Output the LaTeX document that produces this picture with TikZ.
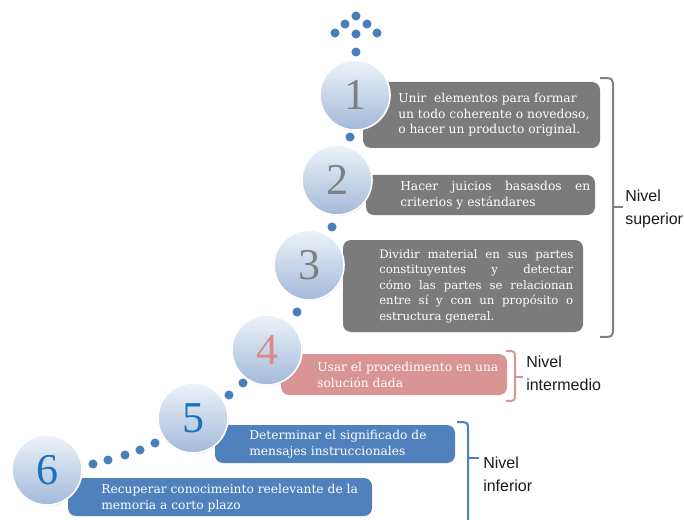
\documentclass[tikz,border=0pt]{standalone}
\usepackage{fontspec}
\setmainfont{DejaVu Serif}
\newfontfamily\digitfont{Liberation Serif}
\newfontfamily\labelfont{Liberation Sans}
\usetikzlibrary{shadows}
\definecolor{boxgray}{HTML}{7B7B7B}
\definecolor{boxpink}{HTML}{D99594}
\definecolor{boxblue}{HTML}{4F81BD}
\definecolor{dotblue}{HTML}{4A7EBB}
\definecolor{numgray}{HTML}{7F7F7F}
\definecolor{numpink}{HTML}{D98A8A}
\definecolor{numblue}{HTML}{1F6FBF}
\definecolor{ctop}{HTML}{EEF3F9}
\definecolor{cbot}{HTML}{A2B9DA}
\definecolor{brgray}{HTML}{808080}
\begin{document}
\begin{tikzpicture}[x=0.75pt,y=-0.75pt,
  circ/.style={circle, minimum size=52.5pt, inner sep=0pt, draw=white, line width=1.2pt,
    top color=ctop, bottom color=cbot,
    drop shadow={opacity=0.18, shadow xshift=0.8pt, shadow yshift=-0.8pt},
    font=\digitfont\fontsize{33}{33}\selectfont},
  boxshape/.style={rounded corners=6pt},
  txt/.style={text=white, align=left, inner sep=0pt, anchor=west,
    font=\fontsize{9.2}{11.6}\selectfont},
  dot/.style={fill=dotblue},
  lbl/.style={align=left, inner sep=0pt, anchor=west, text=black!90,
    font=\labelfont\fontsize{12}{17}\selectfont},
  brk/.style={line width=1.5pt}
]
\useasboundingbox (0,0) rectangle (684,520);

% boxes
\fill[boxgray, boxshape] (363,82) rectangle (600,148);
\fill[boxgray, boxshape] (366,175) rectangle (595,215);
\fill[boxgray, boxshape] (343,240) rectangle (583,332);
\fill[boxpink, boxshape] (281,354) rectangle (507,395);
\fill[boxblue, boxshape] (215,425) rectangle (455,463);
\fill[boxblue, boxshape] (68,478) rectangle (372,516);

% dots
\foreach \p in {(356,16),(345,24),(367,24),(335,33),(356,34),(377,33),(356,52),
  (350,137),(332,227),(297,312),(243,383),(229,395),
  (93,464),(108,460),(125,455),(140,450),(155,443)}
  \fill[dot] \p circle (3.4pt);

% circles
\node[circ, text=numgray] (c1) at (355,95) {1};
\node[circ, text=numgray] (c2) at (337,180) {2};
\node[circ, text=numgray] (c3) at (309,265) {3};
\node[circ, text=numpink] (c4) at (267,350) {4};
\node[circ, text=numblue] (c5) at (193,418) {5};
\node[circ, text=numblue] (c6) at (47,470) {6};

% texts
\node[txt] (t1) at (398,115) {Unir\ \ elementos para formar\\un todo coherente o novedoso,\\o hacer un producto original.};
\node[txt] (t2) at (400,195) {\makebox[142.5pt][s]{Hacer juicios basasdos en}\\criterios y estándares};
\node[txt, font=\fontsize{8.8}{11.6}\selectfont] (t3) at (379,286) {\makebox[145.5pt][s]{Dividir material en sus partes}\\\makebox[145.5pt][s]{constituyentes y detectar}\\\makebox[145.5pt][s]{cómo las partes se relacionan}\\\makebox[145.5pt][s]{entre sí y con un propósito o}\\estructura general.};
\node[txt] (t4) at (317,375) {Usar el procedimento en una\\solución dada};
\node[txt] (t5) at (249,444) {Determinar el significado de\\mensajes instruccionales};
\node[txt] (t6) at (101,498) {Recuperar conocimeinto reelevante de la\\memoria a corto plazo};

% brackets
\draw[brk, brgray] (600,78) .. controls (613,78) .. (613,88) -- (613,327) .. controls (613,337) .. (600,337);
\draw[brk, brgray] (613,207) -- (623,207);
\draw[brk, boxpink] (506,351) .. controls (515,351) .. (515,358) -- (515,394) .. controls (515,401) .. (506,401);
\draw[brk, boxpink] (515,377) -- (523,377);
\draw[brk, boxblue] (457,422) .. controls (468,422) .. (468,430) -- (468,520);
\draw[brk, boxblue] (468,458) -- (479,458);

% labels
\node[lbl] (l1) at (625,209) {Nivel\\superior};
\node[lbl] (l2) at (526,373) {Nivel\\intermedio};
\node[lbl] (l3) at (483,474) {Nivel\\inferior};
\end{tikzpicture}
\end{document}
